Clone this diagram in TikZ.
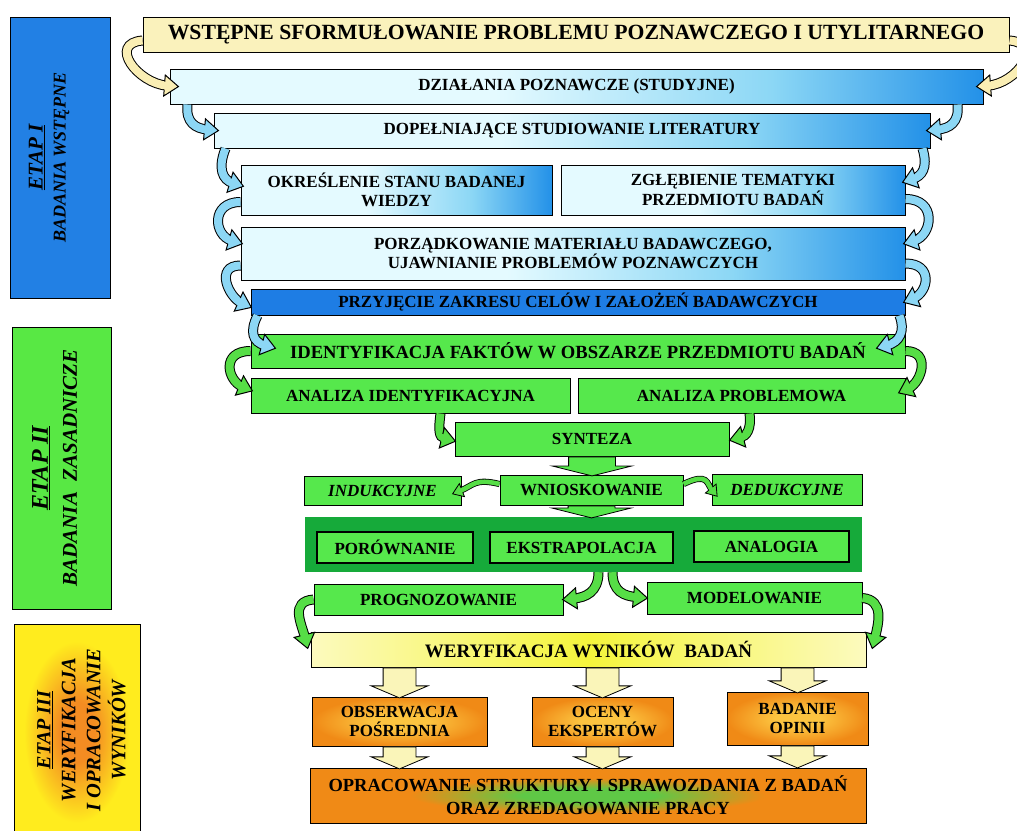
\documentclass[tikz,border=0pt]{standalone}
\usepackage{fontspec}
\setmainfont{Liberation Serif}
\usetikzlibrary{calc,positioning,shapes.arrows,decorations.markings}

\definecolor{titleyellow}{RGB}{250,242,188}
\definecolor{lightcyan}{RGB}{228,250,255}
\definecolor{midcyan}{RGB}{140,215,245}
\definecolor{skyblue}{RGB}{35,145,232}
\definecolor{boxblue}{RGB}{30,125,228}
\definecolor{boxgreen}{RGB}{86,232,76}
\definecolor{darkgreen}{RGB}{22,170,58}
\definecolor{weryedge}{RGB}{252,250,190}
\definecolor{lemon}{RGB}{245,245,60}
\definecolor{orangebox}{RGB}{240,138,22}
\definecolor{orangelight}{RGB}{252,196,64}
\definecolor{glowgreen}{RGB}{95,200,70}
\definecolor{etapblue}{RGB}{34,128,228}
\definecolor{etapgreen}{RGB}{88,232,68}
\definecolor{etapyellow}{RGB}{255,236,30}
\definecolor{glowor}{RGB}{244,140,34}
\definecolor{arrowyellow}{RGB}{250,238,180}
\definecolor{arrowblue}{RGB}{140,215,245}
\definecolor{arrowgreen}{RGB}{86,222,70}
\definecolor{blockyellow}{RGB}{250,245,185}

\pgfdeclarehorizontalshading{skyfade}{100bp}{color(0bp)=(lightcyan); color(25bp)=(lightcyan); color(45bp)=(lightcyan); color(62bp)=(midcyan); color(75bp)=(skyblue); color(100bp)=(skyblue)}
\pgfdeclareradialshading{orangeglow}{\pgfpoint{0bp}{0bp}}{color(0bp)=(orangelight); color(8bp)=(orangelight); color(25bp)=(orangebox); color(50bp)=(orangebox)}
\pgfdeclareradialshading{greenglow}{\pgfpoint{0bp}{0bp}}{color(0bp)=(glowgreen); color(6bp)=(glowgreen); color(16bp)=(orangebox); color(50bp)=(orangebox)}
\pgfdeclareradialshading{etapglow}{\pgfpoint{0bp}{0bp}}{color(0bp)=(glowor); color(7bp)=(glowor); color(21bp)=(etapyellow); color(50bp)=(etapyellow)}

\newcommand{\boxfont}{\fontsize{17}{19.5}\selectfont\bfseries}
\newcommand{\titlefont}{\fontsize{21.7}{24}\selectfont\bfseries}

\begin{document}
\begin{tikzpicture}[x=1pt, y=-1pt,
  base/.style={draw=black, line width=1pt, inner sep=2pt, align=center, font=\boxfont},
  yelbox/.style={base, fill=titleyellow, font=\titlefont},
  skybox/.style={base, shade, shading=skyfade},
  bluebox/.style={base, fill=boxblue},
  grnbox/.style={base, fill=boxgreen},
  weryfbox/.style={base, left color=weryedge, right color=weryedge, middle color=lemon},
  orbox/.style={base, shade, shading=orangeglow},
  oprbox/.style={base, shade, shading=greenglow},
  panel/.style={draw=black, line width=1pt, inner sep=0pt},
  sidetext/.style={rotate=90, align=center, font=\bfseries\itshape},
  sarr/.style={draw=#1, line width=8pt, shorten >=10pt,
    preaction={draw=black, line width=10pt, shorten >=10pt},
    postaction={decorate, decoration={markings, mark=at position 0.999 with {
      \fill[#1] (1pt,0pt) -- (-13pt,10.5pt) -- (-13pt,-10.5pt) -- cycle;
      \draw[black, line width=1pt, shorten >=0pt, line join=miter]
        (-13pt,4pt) -- (-13pt,10.5pt) -- (1pt,0pt) -- (-13pt,-10.5pt) -- (-13pt,-4pt);}}}},
  sarrthin/.style={draw=#1, line width=4.6pt, shorten >=7pt,
    preaction={draw=black, line width=6.2pt, shorten >=7pt},
    postaction={decorate, decoration={markings, mark=at position 0.999 with {
      \fill[#1] (1pt,0pt) -- (-9pt,7pt) -- (-9pt,-7pt) -- cycle;
      \draw[black, line width=0.8pt, shorten >=0pt, line join=miter]
        (-9pt,2.3pt) -- (-9pt,7pt) -- (1pt,0pt) -- (-9pt,-7pt) -- (-9pt,-2.3pt);}}}},
  darr/.style={single arrow, draw=black, line width=0.8pt, rotate=-90, inner xsep=0pt,
    single arrow head indent=0pt, minimum width=0pt, anchor=tail}
]
\useasboundingbox (0,0) rectangle (1017,830);

% etapy
\node[panel, fill=etapblue, minimum width=100, minimum height=281] (p1) at (60,157.5) {};
\node[sidetext, font=\fontsize{18}{23}\selectfont\bfseries\itshape] (p1t) at ($(p1.center)+(-11,0)$)
  {{\fontsize{21}{23}\selectfont\underline{ETAP I}}\\BADANIA WSTĘPNE};
\node[panel, fill=etapgreen, minimum width=99, minimum height=282] (p2) at (61.5,468) {};
\node[sidetext, font=\fontsize{21}{29}\selectfont\bfseries\itshape] (p2t) at ($(p2.center)+(-7,0)$)
  {{\fontsize{24}{29}\selectfont\underline{ETAP II}}\\BADANIA\ \ ZASADNICZE};
\node[panel, shade, shading=etapglow, minimum width=126, minimum height=216] (p3) at (77,732) {};
\node[sidetext, font=\fontsize{20.5}{25}\selectfont\bfseries\itshape] (p3t) at (81.5,730)
  {{\fontsize{20}{25}\selectfont\underline{ETAP III}}\\WERYFIKACJA\\I OPRACOWANIE\\WYNIKÓW};

% etap I
\node[yelbox, minimum width=866, minimum height=35] (t1) at (576,34.5)
  {WSTĘPNE SFORMUŁOWANIE PROBLEMU POZNAWCZEGO I UTYLITARNEGO};
\node[skybox, minimum width=813, minimum height=35] (t2) at (576.5,86.5) {DZIAŁANIA POZNAWCZE (STUDYJNE)};
\node[skybox, minimum width=716, minimum height=35] (t3) at (572,130.5) {DOPEŁNIAJĄCE STUDIOWANIE LITERATURY};
\node[skybox, minimum width=311, minimum height=50] (t4a) at (396.5,190) {OKREŚLENIE STANU BADANEJ\\WIEDZY};
\node[skybox, minimum width=344, minimum height=50] (t4b) at (733,190) {ZGŁĘBIENIE TEMATYKI\\PRZEDMIOTU BADAŃ};
\node[skybox, minimum width=664, minimum height=53] (t5) at (573,253.5)
  {PORZĄDKOWANIE MATERIAŁU BADAWCZEGO,\\UJAWNIANIE PROBLEMÓW POZNAWCZYCH};
\node[bluebox, minimum width=654, minimum height=26] (t6) at (578,302) {PRZYJĘCIE ZAKRESU CELÓW I ZAŁOŻEŃ BADAWCZYCH};

% etap II
\node[grnbox, minimum width=654, minimum height=34, font=\fontsize{18.6}{21}\selectfont\bfseries] (t7) at (578,351)
  {IDENTYFIKACJA FAKTÓW W OBSZARZE PRZEDMIOTU BADAŃ};
\node[grnbox, minimum width=319, minimum height=35] (t8a) at (410.5,395.5) {ANALIZA IDENTYFIKACYJNA};
\node[grnbox, minimum width=327, minimum height=35] (t8b) at (741.5,395.5) {ANALIZA PROBLEMOWA};
\node[grnbox, minimum width=274, minimum height=34] (t9) at (592,439) {SYNTEZA};
\node[grnbox, minimum width=157, minimum height=29, font=\boxfont\itshape] (t10a) at (382.5,490.5) {INDUKCYJNE};
\node[grnbox, minimum width=183, minimum height=30] (t10b) at (591.5,490) {WNIOSKOWANIE};
\node[grnbox, minimum width=150, minimum height=31, font=\boxfont\itshape] (t10c) at (787,489.5) {DEDUKCYJNE};
\node[fill=darkgreen, minimum width=557, minimum height=55, inner sep=0pt] (cont) at (583.5,544.5) {};
\node[grnbox, line width=1.4pt, minimum width=156, minimum height=31] (c1) at (395,547.5) {PORÓWNANIE};
\node[grnbox, line width=1.4pt, minimum width=183, minimum height=31] (c2) at (581.5,547.5) {EKSTRAPOLACJA};
\node[grnbox, line width=1.4pt, minimum width=155, minimum height=31] (c3) at (771.5,546.5) {ANALOGIA};
\node[grnbox, minimum width=249, minimum height=31] (t12a) at (438.5,599.5) {PROGNOZOWANIE};
\node[grnbox, minimum width=215, minimum height=32] (t12b) at (754.5,598) {MODELOWANIE};

% etap III
\node[weryfbox, minimum width=555, minimum height=35, font=\fontsize{19}{21}\selectfont\bfseries] (t13) at (588.5,649.5)
  {WERYFIKACJA WYNIKÓW\ \ BADAŃ};
\node[orbox, minimum width=175, minimum height=49] (t14a) at (399.5,721.5) {OBSERWACJA\\POŚREDNIA};
\node[orbox, minimum width=141, minimum height=49] (t14b) at (602.5,721.5) {OCENY\\EKSPERTÓW};
\node[orbox, minimum width=141, minimum height=53] (t14c) at (797.5,718.5) {BADANIE\\OPINII};
\node[oprbox, minimum width=556, minimum height=55, font=\fontsize{18.5}{23}\selectfont\bfseries] (t15) at (588,795.5)
  {OPRACOWANIE STRUKTURY I SPRAWOZDANIA Z BADAŃ\\ORAZ ZREDAGOWANIE PRACY};

% strzalki blokowe
\node[darr, fill=boxgreen, inner ysep=23pt, single arrow head extend=16pt, single arrow tip angle=152,
  minimum height=19pt] (d1) at (t9.south) {};
\node[darr, fill=boxgreen, inner ysep=23pt, single arrow head extend=16pt, single arrow tip angle=152,
  minimum height=12pt] (d2) at (t10b.south) {};
\foreach \b/\l in {t14a/30, t14b/30, t14c/25}{
  \node[darr, fill=blockyellow, inner ysep=16pt, single arrow head extend=12pt, single arrow tip angle=134,
    minimum height=\l pt] (up-\b) at (\b.north |- t13.south) {};
  \node[darr, fill=blockyellow, inner ysep=16pt, single arrow head extend=12pt, single arrow tip angle=134,
    minimum height=22pt] (dn-\b) at (\b.south) {};
}

% strzalki boczne
\draw[sarr=arrowyellow] ($(t1.west)+(0,6)$) .. controls +(-35,3) and +(-40,-3) .. ($(t2.west)+(8,0)$);
\draw[sarr=arrowyellow] ($(t1.east)+(0,6)$) .. controls +(35,3) and +(40,-3) .. ($(t2.east)+(-6,0)$);
\draw[sarr=arrowblue] ($(t2.south west)+(18,0)$) .. controls +(-2,18) and +(-22,-2) .. ($(t3.west)+(4,0)$);
\draw[sarr=arrowblue] ($(t2.south east)+(-26,0)$) .. controls +(2,18) and +(22,-2) .. ($(t3.east)+(-3,0)$);
\draw[sarr=arrowblue] ($(t3.south west)+(12,0)$) .. controls +(-8,20) and +(-20,-6) .. ($(t4a.west)+(2,-4)$);
\draw[sarr=arrowblue] ($(t3.south east)+(-8,0)$) .. controls +(6,20) and +(18,-6) .. ($(t4b.east)+(-2,-8)$);
\draw[sarr=arrowblue] ($(t4a.west)+(0,12)$) .. controls +(-30,0) and +(-28,-8) .. ($(t5.west)+(1,-10)$);
\draw[sarr=arrowblue] ($(t4b.east)+(0,9)$) .. controls +(32,0) and +(28,-8) .. ($(t5.east)+(-1,-10)$);
\draw[sarr=arrowblue] ($(t5.west)+(0,12)$) .. controls +(-26,0) and +(-22,-10) .. ($(t6.west)+(0,5)$);
\draw[sarr=arrowblue] ($(t5.east)+(0,10)$) .. controls +(28,0) and +(24,-10) .. ($(t6.east)+(-1,0)$);
\draw[sarr=arrowblue] ($(t6.south west)+(7,0)$) .. controls +(-8,16) and +(-22,-6) .. ($(t7.west)+(24,-3)$);
\draw[sarr=arrowblue] ($(t6.south east)+(-6,0)$) .. controls +(6,16) and +(22,-6) .. ($(t7.east)+(-28,-3)$);
\draw[sarr=arrowgreen] (t7.west) .. controls +(-30,0) and +(-24,-10) .. ($(t8a.west)+(1,-5)$);
\draw[sarr=arrowgreen] (t7.east) .. controls +(26,0) and +(22,-10) .. ($(t8b.east)+(-6,-3)$);
\draw[sarr=arrowgreen] ($(t8a.south east)+(-130,0)$) .. controls +(-2,16) and +(-16,-4) .. ($(t9.west)+(0,2)$);
\draw[sarr=arrowgreen] ($(t8b.south west)+(172,0)$) .. controls +(2,16) and +(16,-4) .. ($(t9.east)+(1,1)$);
\draw[sarrthin=arrowgreen] ($(t10b.west)+(0,-6)$) .. controls +(-25,-6) and +(20,-8) .. ($(t10a.east)+(-8,3)$);
\draw[sarrthin=arrowgreen] ($(t10b.east)+(0,-6)$) .. controls +(25,-12) and +(-10,-12) .. ($(t10c.west)+(5,6)$);
\draw[sarr=arrowgreen] ($(cont.south)+(15,0)$) .. controls +(0,20) and +(22,-2) .. (t12a.east);
\draw[sarr=arrowgreen] ($(cont.south)+(29,0)$) .. controls +(0,20) and +(-22,-2) .. (t12b.west);
\draw[sarr=arrowgreen] (t12a.west) .. controls +(-24,2) and +(-6,-24) .. ($(t13.west)+(-3,-2)$);
\draw[sarr=arrowgreen] (t12b.east) .. controls +(22,2) and +(6,-24) .. ($(t13.east)+(6,-2)$);
\end{tikzpicture}
\end{document}
